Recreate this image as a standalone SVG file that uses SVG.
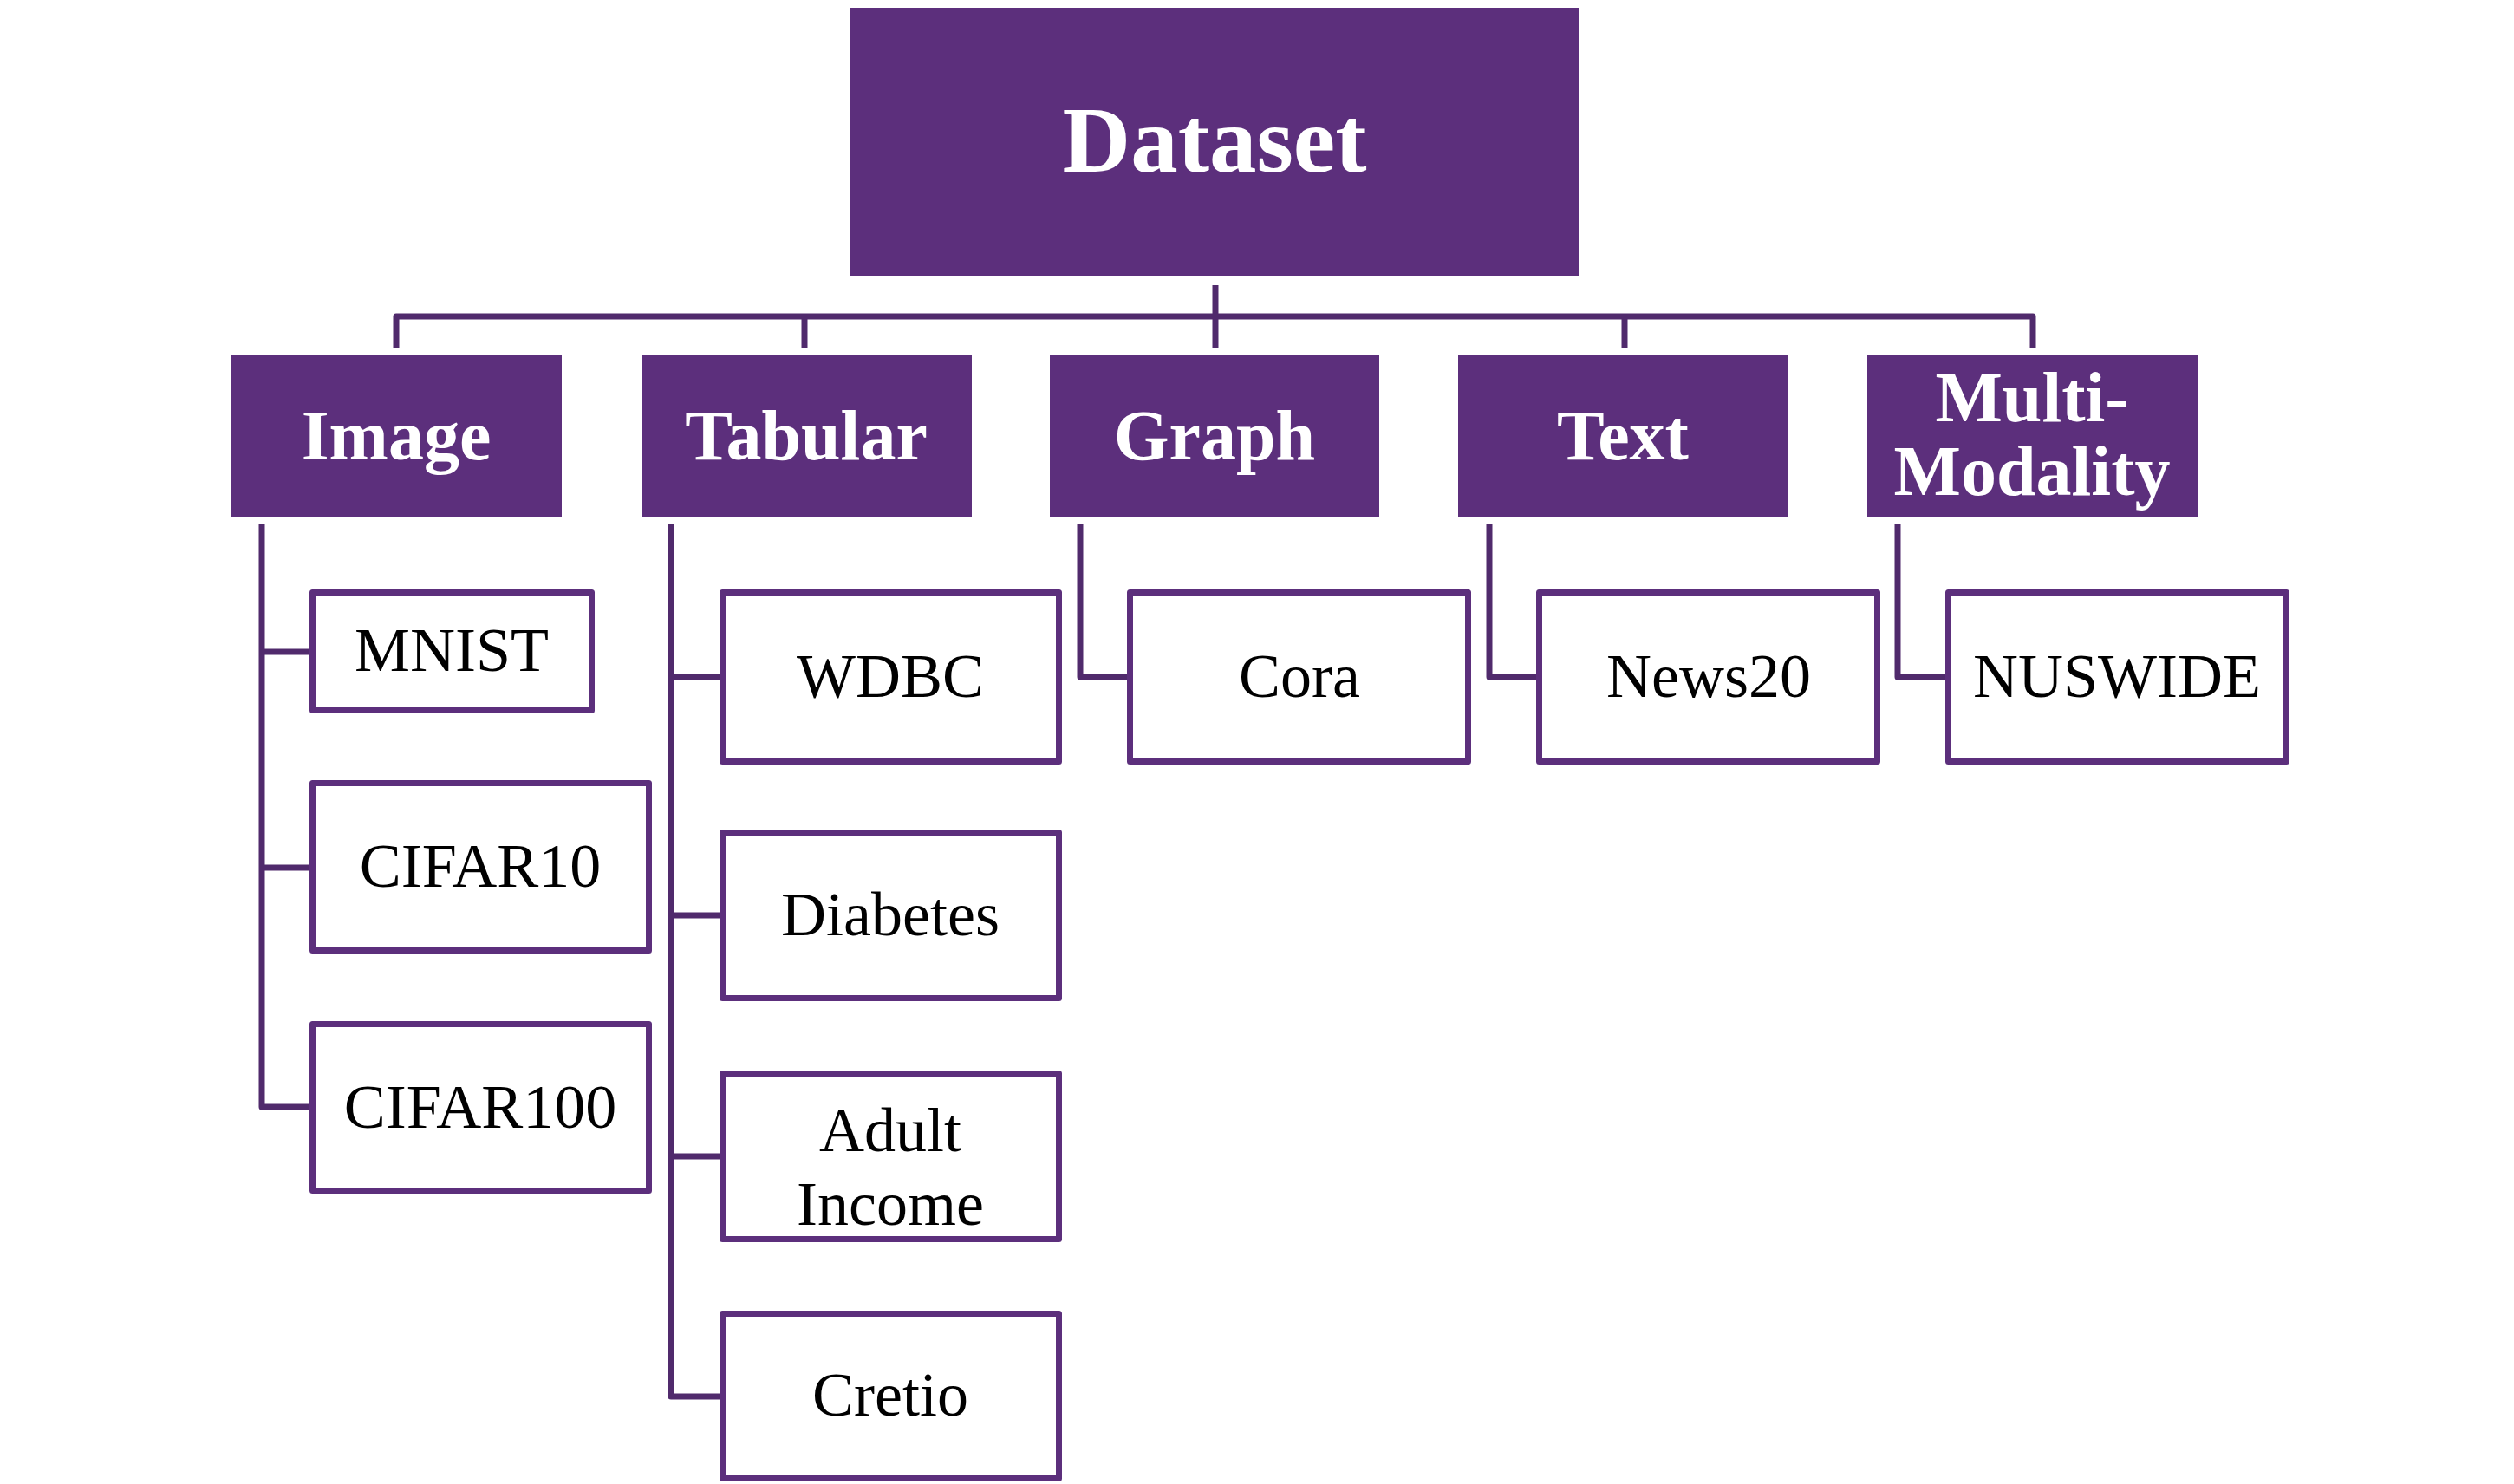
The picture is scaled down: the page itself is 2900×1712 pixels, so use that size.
<svg xmlns="http://www.w3.org/2000/svg" width="2900" height="1712" viewBox="0 0 2900 1712">
<style>
.root{fill:#5c2f7c}
.cat{fill:#5c2f7c}
.leaf{fill:#ffffff;stroke:#5c2f7c;stroke-width:7;stroke-linejoin:round}
.t1{font-family:"Liberation Serif","Times New Roman",serif;font-weight:bold;font-size:109px;fill:#ffffff;text-anchor:middle}
.t2{font-family:"Liberation Serif","Times New Roman",serif;font-weight:bold;font-size:82px;fill:#ffffff;text-anchor:middle}
.t3{font-family:"Liberation Serif","Times New Roman",serif;font-size:72px;fill:#000000;text-anchor:middle}
.conn{fill:none;stroke:#502a6c;stroke-width:7;stroke-linejoin:round}
</style>
<rect width="2900" height="1712" fill="#ffffff"/>
<g id="connectors">
<path class="conn" d="M1402 329 V402"/>
<path class="conn" d="M457 402 V365 H2345 V402"/>
<path class="conn" d="M928 365 V402"/>
<path class="conn" d="M1874 365 V402"/>
<path class="conn" d="M302 605 V1277 H357"/>
<path class="conn" d="M302 752 H357"/>
<path class="conn" d="M302 1001 H357"/>
<path class="conn" d="M774 605 V1611 H830"/>
<path class="conn" d="M774 781 H830"/>
<path class="conn" d="M774 1056 H830"/>
<path class="conn" d="M774 1334 H830"/>
<path class="conn" d="M1246 605 V781 H1300"/>
<path class="conn" d="M1718 605 V781 H1772"/>
<path class="conn" d="M2189 605 V781 H2244"/>
</g>
<g id="dataset"><rect class="root" x="980" y="9" width="842" height="309"/><text class="t1" x="1401" y="198">Dataset</text></g>
<g id="image"><rect class="cat" x="267" y="410" width="381" height="187"/><text class="t2" x="457" y="530">Image</text></g>
<g id="tabular"><rect class="cat" x="740" y="410" width="381" height="187"/><text class="t2" x="930" y="530">Tabular</text></g>
<g id="graph"><rect class="cat" x="1211" y="410" width="380" height="187"/><text class="t2" x="1401" y="530">Graph</text></g>
<g id="text"><rect class="cat" x="1682" y="410" width="381" height="187"/><text class="t2" x="1872" y="530">Text</text></g>
<g id="multimodality"><rect class="cat" x="2154" y="410" width="381" height="187"/><text class="t2" x="2344" y="486">Multi-</text><text class="t2" x="2344" y="571">Modality</text></g>
<g id="mnist"><rect class="leaf" x="360.5" y="683.5" width="322" height="136"/><text class="t3" x="521" y="774">MNIST</text></g>
<g id="cifar10"><rect class="leaf" x="360.5" y="903.5" width="388" height="193"/><text class="t3" x="554" y="1023">CIFAR10</text></g>
<g id="cifar100"><rect class="leaf" x="360.5" y="1181.5" width="388" height="192"/><text class="t3" x="554" y="1301">CIFAR100</text></g>
<g id="wdbc"><rect class="leaf" x="833.5" y="683.5" width="388" height="195"/><text class="t3" x="1027" y="804">WDBC</text></g>
<g id="diabetes"><rect class="leaf" x="833.5" y="960.5" width="388" height="191"/><text class="t3" x="1027" y="1079">Diabetes</text></g>
<g id="adultincome"><rect class="leaf" x="833.5" y="1238.5" width="388" height="191"/><text class="t3" x="1027" y="1328">Adult</text><text class="t3" x="1027" y="1413">Income</text></g>
<g id="cretio"><rect class="leaf" x="833.5" y="1515.5" width="388" height="190"/><text class="t3" x="1027" y="1633">Cretio</text></g>
<g id="cora"><rect class="leaf" x="1303.5" y="683.5" width="390" height="195"/><text class="t3" x="1499" y="804">Cora</text></g>
<g id="news20"><rect class="leaf" x="1775.5" y="683.5" width="390" height="195"/><text class="t3" x="1971" y="804">News20</text></g>
<g id="nuswide"><rect class="leaf" x="2247.5" y="683.5" width="390" height="195"/><text class="t3" x="2442" y="804">NUSWIDE</text></g>
</svg>
